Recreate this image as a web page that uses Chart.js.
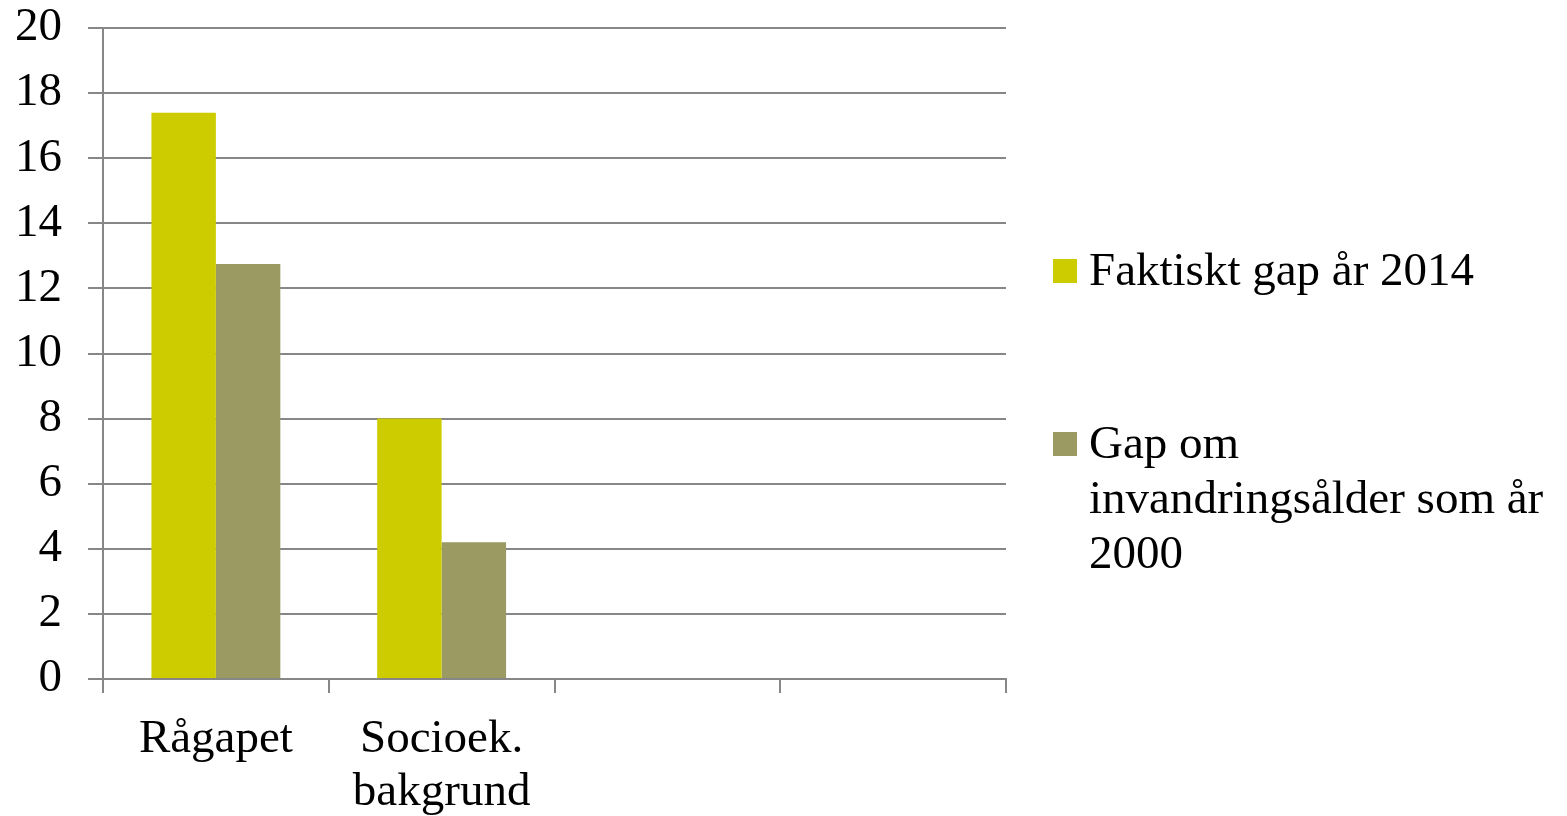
<!DOCTYPE html>
<html>
<head>
<meta charset="utf-8">
<script src="https://cdn.jsdelivr.net/npm/chart.js@4.4.1/dist/chart.umd.min.js"></script>
<style>
  html, body { margin: 0; padding: 0; background: #fff; }
  #wrap { position: relative; width: 1567px; height: 816px; }
  #c { position: absolute; left: 0; top: 0; }
  #legend { position: absolute; left: 1053px; top: 0; width: 514px;
            font-family: "Liberation Serif", "Times New Roman", serif; font-size: 47px; line-height: 55px; color: #000; }
  .item { position: absolute; left: 0; display: flex; align-items: flex-start; }
  .sw { width: 24px; height: 24px; margin-right: 12px; flex: none; }
  .txt { width: 466px; }
</style>
</head>
<body>
<div id="wrap">
  <canvas id="c" width="1567" height="816"></canvas>
  <div id="legend"></div>
</div>
<script>
const categories = ['Rågapet', ['Socioek.', 'bakgrund'], '', ''];
const seriesNames = ['Faktiskt gap år 2014', 'Gap om invandringsålder som år 2000'];
const faktisktGap2014 = [17.4, 8.0, null, null];
const gapInvandringsalder2000 = [12.75, 4.2, null, null];
const seriesColors = ['#CCCC00', '#9A9A62'];
const yTicks = [0, 2, 4, 6, 8, 10, 12, 14, 16, 18, 20];

const FONT = '"Liberation Serif", "Times New Roman", serif';
const gridColor = '#878787';

const chart = new Chart(document.getElementById('c'), {
  type: 'bar',
  data: {
    labels: categories,
    datasets: [
      { label: seriesNames[0], data: faktisktGap2014, backgroundColor: seriesColors[0], borderWidth: 0 },
      { label: seriesNames[1], data: gapInvandringsalder2000, backgroundColor: seriesColors[1], borderWidth: 0 }
    ]
  },
  options: {
    responsive: false,
    animation: false,
    devicePixelRatio: 1,
    layout: { padding: { left: 0, right: 561, top: 28, bottom: 0 } },
    plugins: { legend: { display: false }, tooltip: { enabled: false } },
    datasets: { bar: { categoryPercentage: 0.571, barPercentage: 1.0 } },
    scales: {
      x: {
        grid: { display: true, drawOnChartArea: false, drawTicks: true, tickLength: 14, color: gridColor, lineWidth: 2, offset: true },
        border: { display: true, color: gridColor, width: 2 },
        ticks: { color: '#000', font: { family: FONT, size: 47, lineHeight: 1.13 }, padding: 20, maxRotation: 0, autoSkip: false },
        afterFit: (s) => { s.height = 816 - 679; s.paddingLeft = 0; s.paddingRight = 0; }
      },
      y: {
        min: 0, max: 20,
        afterBuildTicks: (s) => { s.ticks = yTicks.map(v => ({ value: v })); },
        grid: { display: true, drawOnChartArea: true, drawTicks: true, tickLength: 15, color: gridColor, lineWidth: 2 },
        border: { display: true, color: gridColor, width: 2 },
        ticks: { color: '#000', font: { family: FONT, size: 47 }, padding: 26 },
        afterFit: (s) => { s.width = 103; s.paddingTop = 0; s.paddingBottom = 0; }
      }
    }
  }
});

// HTML legend built from the dataset names and colours
const legend = document.getElementById('legend');
const tops = [242, 415];
seriesNames.forEach((name, i) => {
  const it = document.createElement('div');
  it.className = 'item';
  it.style.top = tops[i] + 'px';
  const sw = document.createElement('div');
  sw.className = 'sw';
  sw.style.background = seriesColors[i];
  sw.style.marginTop = '17px';
  const t = document.createElement('div');
  t.className = 'txt';
  t.textContent = name;
  it.appendChild(sw); it.appendChild(t);
  legend.appendChild(it);
});
</script>
</body>
</html>
